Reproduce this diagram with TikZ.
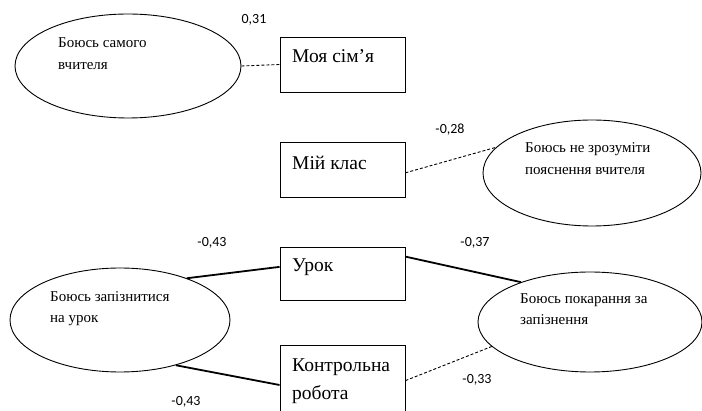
\documentclass[tikz,border=0pt]{standalone}
\usepackage{fontspec}
\setmainfont{Liberation Serif}
\newfontfamily\lblfont{Carlito}
\usetikzlibrary{shapes.geometric}
\begin{document}
\begin{tikzpicture}[x=1pt,y=-1pt,
 ell/.style={draw,ellipse,inner sep=0pt,line width=0.9pt},
 box/.style={draw,rectangle,inner sep=0pt,line width=0.9pt,minimum width=125pt},
 etext/.style={anchor=base west,inner sep=0pt,font=\fontsize{15}{18}\selectfont},
 btext/.style={anchor=base west,inner sep=0pt,font=\fontsize{19.5}{23}\selectfont},
 lbl/.style={inner sep=0pt,font=\lblfont\fontsize{14}{16}\selectfont},
 solidc/.style={line width=1.8pt},
 dashc/.style={line width=0.9pt,dash pattern=on 3pt off 2pt}]
\useasboundingbox (0,0) rectangle (702,411);
\clip (0,0) rectangle (702,411);
% ellipses
\node[ell,minimum width=226pt,minimum height=104pt] (e1) at (128,66) {};
\node[ell,minimum width=218pt,minimum height=106pt] (e2) at (592,173) {};
\node[ell,minimum width=220pt,minimum height=104pt] (e3) at (120,320) {};
\node[ell,minimum width=224pt,minimum height=100pt] (e4) at (590,322) {};
% boxes
\node[box,minimum height=55pt] (b1) at (342.5,64.5) {};
\node[box,minimum height=55pt] (b2) at (342.5,169.5) {};
\node[box,minimum height=53pt] (b3) at (342.5,273.5) {};
\node[box,minimum height=80pt] (b4) at (342.5,385) {};
% ellipse texts
\node[etext] (t1a) at (58,48) {Боюсь самого};
\node[etext] (t1b) at (58,70) {вчителя};
\node[etext] (t2a) at (525,153) {Боюсь не зрозуміти};
\node[etext] (t2b) at (525,175) {пояснення вчителя};
\node[etext] (t3a) at (50,302) {Боюсь запізнитися};
\node[etext] (t3b) at (50,323) {на урок};
\node[etext] (t4a) at (520,304) {Боюсь покарання за};
\node[etext] (t4b) at (520,325) {запізнення};
% box texts
\node[btext] (bt1) at (292,63) {Моя сім’я};
\node[btext] (bt2) at (292,170) {Мій клас};
\node[btext] (bt3) at (292,272) {Урок};
\node[btext] (bt4a) at (292,372) {Контрольна};
\node[btext] (bt4b) at (292,400) {робота};
% connectors
\draw[dashc] (e1.east) -- (b1.west);
\draw[dashc] (b2.-3) -- (e2.165);
\draw[solidc] (e3.32) -- (b3.174);
\draw[solidc] (e3.-39) -- (b4.west);
\draw[solidc] (b3.15.6) -- (e4.150);
\draw[dashc] (b4.4.6) -- (e4.194);
% labels
\node[lbl] (l1) at (254,20) {0,31};
\node[lbl] (l2) at (450,130) {-0,28};
\node[lbl] (l3) at (212,243) {-0,43};
\node[lbl] (l4) at (475,243) {-0,37};
\node[lbl] (l5) at (477,380) {-0,33};
\node[lbl] (l6) at (186,402) {-0,43};
\end{tikzpicture}
\end{document}
